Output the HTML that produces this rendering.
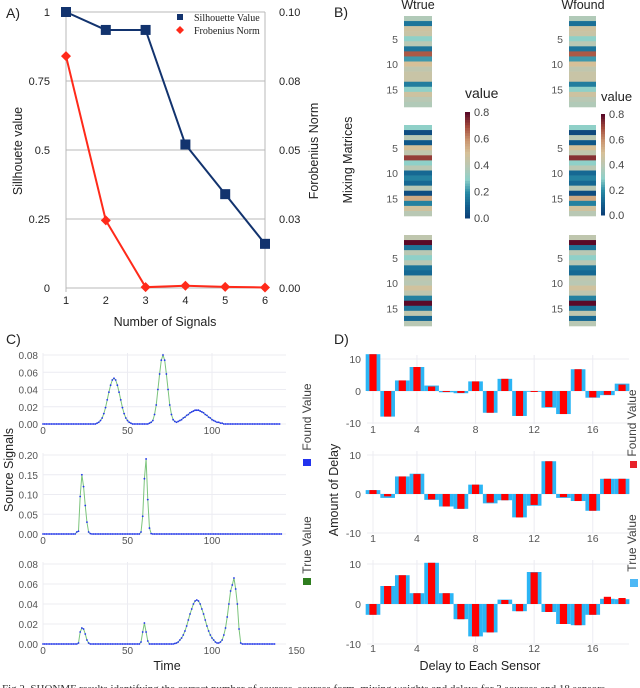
<!DOCTYPE html>
<html><head><meta charset="utf-8"><style>
html,body{margin:0;padding:0;background:#fff;}
svg{display:block;font-family:"Liberation Sans",sans-serif;}
</style></head><body>
<svg id="fig" width="640" height="688" viewBox="0 0 640 688" xmlns="http://www.w3.org/2000/svg">
</svg>
<script>
// ---------- DATA ----------
// Panel A
const aCats = [1,2,3,4,5,6];
const aSil = [1.0,0.935,0.935,0.52,0.34,0.16];
const aFrob = [0.084,0.0245,0.0003,0.0008,0.0004,0.0002];
const aLeftTicks = [0,0.25,0.5,0.75,1];
const aLeftLabels = ["0","0.25","0.5","0.75","1"];
const aRightLabels = ["0.00","0.03","0.05","0.08","0.10"];
// Panel B (18 sensors x 3 blocks)
const wTrue1 = [0.38,0.15,0.47,0.45,0.3,0.4,0.15,0.68,0.22,0.5,0.42,0.45,0.45,0.17,0.3,0.47,0.4,0.38];
const wTrue2 = [0.3,0.05,0.4,0.08,0.5,0.42,0.72,0.3,0.4,0.12,0.18,0.12,0.4,0.05,0.55,0.18,0.48,0.4];
const wTrue3 = [0.42,0.8,0.15,0.4,0.3,0.4,0.15,0.12,0.42,0.4,0.48,0.42,0.18,0.8,0.15,0.42,0.12,0.4];
const wFound1 = [0.38,0.14,0.47,0.45,0.3,0.4,0.15,0.68,0.22,0.5,0.42,0.45,0.45,0.17,0.3,0.47,0.4,0.38];
const wFound2 = [0.3,0.04,0.4,0.08,0.5,0.42,0.74,0.3,0.4,0.12,0.18,0.12,0.4,0.05,0.55,0.18,0.48,0.4];
const wFound3 = [0.42,0.82,0.15,0.4,0.3,0.4,0.15,0.12,0.42,0.4,0.48,0.42,0.18,0.8,0.15,0.42,0.12,0.4];
const cbarLabels = ["0.0","0.2","0.4","0.6","0.8"];
// Panel C (t = 0..140)
const sig1 = [0,0,0,0,0,0,0,0,0,0,0,0,0,0,0,0,0,0,0,0,0,0,0,0,0,0,0,0,0,0,0,0,
0.001,0.002,0.004,0.007,0.012,0.019,0.028,0.037,0.045,0.051,0.053,0.051,0.045,0.037,0.028,0.019,0.012,0.007,0.004,0.002,0.001,
0,0,0,0,0,0,0,0,0,0,
0.001,0.002,0.004,0.011,0.022,0.040,0.058,0.074,0.080,0.074,0.058,0.040,0.022,0.011,0.005,0.003,0.002,0.003,0.004,0.005,0.007,0.008,0.010,0.011,0.013,0.014,0.015,0.016,0.016,0.016,0.015,0.014,0.013,0.011,0.010,0.008,0.007,0.005,0.004,0.003,0.002,0.002,0.001,0.001,
0,0,0,0,0,0,0,0,0,0,0,0,0,0,0,0,0,0,0,0,0,0,0,0,0,0,0,0,0,0,0,0,0,0];
const sig2 = [0,0,0,0,0,0,0,0,0,0,0,0,0,0,0,0,0,0,0,0,
0.005,0.007,0.095,0.15,0.12,0.072,0.03,0.005,0.001,
0,0,0,0,0,0,0,0,0,0,0,0,0,0,0,0,0,0,0,0,0,0,0,0,0,0,0,0,0,
0.005,0.045,0.14,0.19,0.087,0.015,0.001,
0,0,0,0,0,0,0,0,0,0,0,0,0,0,0,0,0,0,0,0,0,0,0,0,0,0,0,0,0,0,0,0,0,0,0,0,0,0,0,0,0,0,0,0,0,0,0,0,0,0,0,0,0,0,0,0,0,0,0,0,0,0,0,0,0,0,0,0,0,0,0,0,0,0,0,0,0];
const sig3 = [0,0,0,0,0,0,0,0,0,0,0,0,0,0,0,0,0,0,0,0,0,
0.001,0.012,0.016,0.015,0.010,0.004,0.001,
0,0,0,0,0,0,0,0,0,0,0,0,0,0,0,0,0,0,0,0,0,0,0,0,0,0,0,0,0,0,
0.002,0.012,0.021,0.012,0.003,
0,0,0,0,0,0,0,0,0,0,0,0,0,0,0,
0.0005,0.001,0.002,0.004,0.006,0.009,0.013,0.018,0.024,0.030,0.035,0.040,0.043,0.044,0.043,0.040,0.035,0.030,0.024,0.018,0.013,0.009,0.006,0.004,0.002,0.001,0.001,0.002,0.004,0.009,0.016,0.027,0.040,0.053,0.059,0.066,0.055,0.040,0.015,0.001,
0,0,0,0,0,0,0,0,0,0,0,0,0,0,0,0,0,0,0,0];
const cXTicks = [0,50,100];
const cTicks1 = [0,0.02,0.04,0.06,0.08];
const cTicks2 = [0,0.05,0.10,0.15,0.20];
// Panel D (18 sensors)
const dTrue1 = [11.5,-8,3.3,7.5,1.7,-0.4,-0.7,3,-6.8,3.8,-7.8,-0.2,-5.2,-7.2,6.8,-2.1,-1.3,2.3];
const dFound1 = [11.5,-8,3.3,7.5,1.4,-0.3,-0.6,3,-6.8,3.8,-7.8,-0.3,-5,-7.2,6.8,-2,-1.2,2];
const dTrue2 = [1,-1,4.5,5.2,-1.5,-3.2,-3.8,2.4,-2.4,-1.6,-6,-3,8.4,-1,-1.8,-4.3,3.9,3.9];
const dFound2 = [1,-0.6,4.5,5.1,-1.4,-3.2,-3.8,2.4,-2.2,-1.6,-6,-2.8,8.4,-0.8,-1.8,-4.3,3.9,3.9];
const dTrue3 = [-2.7,4.5,7.2,2.7,10.3,2.7,-3.8,-8.1,-7.1,1.1,-1.8,8,-2,-5,-5.3,-2.7,1.3,1.2];
const dFound3 = [-2.7,4.5,7.2,2.7,10.3,2.7,-3.8,-8.1,-7.1,1,-1.8,7.9,-2,-5,-5.3,-2.7,1.8,1.5];
const dXTicks = [1,4,8,12,16];
const dYTicks = [-10,0,10];

// ---------- HELPERS ----------
const NS = "http://www.w3.org/2000/svg";
const svg = document.getElementById('fig');
function mk(tag, attrs, parent, text){
  const e = document.createElementNS(NS, tag);
  for (const k in attrs) e.setAttribute(k, attrs[k]);
  if (text !== undefined) e.textContent = text;
  (parent || svg).appendChild(e);
  return e;
}
function grp(parent){ return mk('g', {}, parent); }

// ---------- PANEL A ----------
const gA = grp(svg);


const axL = 66, axR = 265, ay0 = 288, ay1 = 12;
const ax = v => axL + (v - 1) * (axR - axL) / 5;
const ay = v => ay0 - v * (ay0 - ay1);
let t = mk('text', {x:6, y:18, 'font-size':14, fill:'#222'}, gA, 'A)');


aLeftTicks.forEach((v, i) => {
  const gl = mk('line', {x1:axL, x2:axR, y1:ay(v), y2:ay(v), stroke:'#b8b8b8', 'stroke-width':1}, gA);
  
  
  const lt = mk('text', {x:50, y:ay(v) + 4, 'font-size':11, 'text-anchor':'end', fill:'#222'}, gA, aLeftLabels[i]);
  
  
  const rt = mk('text', {x:279, y:ay(v) + 4, 'font-size':11, fill:'#222'}, gA, aRightLabels[i]);
  
  
});
mk('line', {x1:axL, x2:axL, y1:ay1, y2:ay0 + 4, stroke:'#b8b8b8'}, gA);
mk('line', {x1:axR, x2:axR, y1:ay1, y2:ay0 + 4, stroke:'#b8b8b8'}, gA);
aCats.forEach(c => {
  const xl = mk('text', {x:ax(c), y:304, 'font-size':11, 'text-anchor':'middle', fill:'#222'}, gA, String(c));
  
  
});
t = mk('text', {x:165, y:326, 'font-size':12.5, 'text-anchor':'middle', fill:'#222'}, gA, 'Number of Signals');


t = mk('text', {x:0, y:0, 'font-size':12.5, 'text-anchor':'middle', fill:'#222', transform:'translate(22,151) rotate(-90)'}, gA, 'Sillhouete value');


t = mk('text', {x:0, y:0, 'font-size':12.5, 'text-anchor':'middle', fill:'#222', transform:'translate(318,151) rotate(-90)'}, gA, 'Forobenius Norm');


// series
const silPts = aCats.map((c, i) => ax(c) + ',' + ay(aSil[i])).join(' ');
const silLine = mk('polyline', {points:silPts, fill:'none', stroke:'#12336e', 'stroke-width':2}, gA);


const frobPts = aCats.map((c, i) => ax(c) + ',' + ay(aFrob[i] * 10)).join(' ');
const frobLine = mk('polyline', {points:frobPts, fill:'none', stroke:'#ff2a1a', 'stroke-width':2}, gA);


aCats.forEach((c, i) => {
  const m = mk('rect', {x:ax(c) - 5, y:ay(aSil[i]) - 5, width:10, height:10, fill:'#12336e'}, gA);
  
  
  const x = ax(c), y = ay(aFrob[i] * 10);
  const d = mk('polygon', {points:`${x},${y-5} ${x+5},${y} ${x},${y+5} ${x-5},${y}`, fill:'#ff2a1a'}, gA);
  
  
});
// legend
const legA = grp(gA);


mk('rect', {x:177, y:14, width:6, height:6, fill:'#12336e'}, legA);
mk('polygon', {points:'180,26 184,30 180,34 176,30', fill:'#ff2a1a'}, legA);
mk('text', {x:194, y:21, 'font-size':10, 'font-family':'"Liberation Serif",serif', fill:'#222'}, legA, 'Silhouette Value');
mk('text', {x:194, y:34, 'font-size':10, 'font-family':'"Liberation Serif",serif', fill:'#222'}, legA, 'Frobenius Norm');

// ---------- PANEL B ----------
const gB = grp(svg);


const stops = [[0,[11,58,115]],[0.1,[18,95,142]],[0.2,[40,138,165]],[0.3,[143,208,200]],[0.4,[185,200,180]],[0.5,[214,192,152]],[0.6,[201,147,110]],[0.7,[163,74,60]],[0.8,[90,10,40]]];
function cmap(v){
  v = Math.max(0, Math.min(0.8, v));
  for (let i = 0; i < stops.length - 1; i++){
    const [a, ca] = stops[i], [b, cb] = stops[i+1];
    if (v <= b){
      const f = (v - a) / (b - a);
      return 'rgb(' + ca.map((c, j) => Math.round(c + f * (cb[j] - c))).join(',') + ')';
    }
  }
  return 'rgb(90,10,40)';
}
t = mk('text', {x:334, y:17, 'font-size':14, fill:'#222'}, gB, 'B)');


t = mk('text', {x:0, y:0, 'font-size':12.5, 'text-anchor':'middle', fill:'#222', transform:'translate(352,160) rotate(-90)'}, gB, 'Mixing Matrices');


t = mk('text', {x:418, y:9, 'font-size':12.5, 'text-anchor':'middle', fill:'#222'}, gB, 'Wtrue');


t = mk('text', {x:583, y:9, 'font-size':12.5, 'text-anchor':'middle', fill:'#222'}, gB, 'Wfound');


const blockTops = [16, 125, 235];
const rowH = 91 / 18;
const cols = [{x:404, w:28, data:[wTrue1,wTrue2,wTrue3], name:'wtrue'}, {x:569, w:27, data:[wFound1,wFound2,wFound3], name:'wfound'}];
cols.forEach(col => {
  col.data.forEach((arr, bi) => {
    const top = blockTops[bi];
    arr.forEach((v, r) => {
      const cell = mk('rect', {x:col.x, y:top + r * rowH, width:col.w, height:rowH + 0.3, fill:cmap(v)}, gB);
      
      
    });
    [5,10,15].forEach(k => {
      const lab = mk('text', {x:col.x - 6, y:top + (k - 0.5) * rowH + 4, 'font-size':10.5, 'text-anchor':'end', fill:'#555'}, gB, String(k));
      
      
    });
  });
});
// colorbars
const cbars = [{x:465, w:5, top:112, bot:218, lx:474, vx:465, vy:98, fs:14}, {x:601, w:4, top:114, bot:215, lx:609, vx:601, vy:101, fs:13}];
cbars.forEach((cb, ci) => {
  const g = grp(gB);
  
  
  const n = 40;
  for (let i = 0; i < n; i++){
    const v = 0.8 * (1 - i / n);
    mk('rect', {x:cb.x, y:cb.top + i * (cb.bot - cb.top) / n, width:cb.w, height:(cb.bot - cb.top) / n + 0.5, fill:cmap(v)}, g);
  }
  mk('text', {x:cb.vx, y:cb.vy, 'font-size':cb.fs, fill:'#222'}, g, 'value');
  cbarLabels.forEach((l, i) => {
    const y = cb.bot - i * (cb.bot - cb.top) / 4;
    mk('text', {x:cb.lx, y:y + 4, 'font-size':11, fill:'#444'}, g, l);
  });
});

// ---------- PANEL C ----------
const gC = grp(svg);


t = mk('text', {x:6, y:344, 'font-size':14, fill:'#222'}, gC, 'C)');


const cx = v => 43 + v * 1.69;
const cPlots = [{data:sig1, ticks:cTicks1, max:0.08, top:355, bot:424, fmt:2, lbl:431},
                {data:sig2, ticks:cTicks2, max:0.20, top:455, bot:534, fmt:2, lbl:541},
                {data:sig3, ticks:cTicks1, max:0.08, top:564, bot:644, fmt:2, lbl:651}];
cPlots.forEach((p, pi) => {
  const g = grp(gC);
  
  
  const yy = v => p.bot - v / p.max * (p.bot - p.top);
  p.ticks.forEach(v => {
    mk('line', {x1:43, x2:286, y1:yy(v), y2:yy(v), stroke:'#ececf2', 'stroke-width':1}, g);
    mk('text', {x:38, y:yy(v) + 4, 'font-size':10, 'text-anchor':'end', fill:'#555'}, g, v.toFixed(2));
  });
  cXTicks.forEach(v => {
    mk('line', {x1:cx(v), x2:cx(v), y1:p.top - 2, y2:p.bot, stroke:'#ececf2'}, g);
    mk('text', {x:cx(v), y:p.lbl + 3, 'font-size':10, 'text-anchor':'middle', fill:'#555'}, g, String(v));
  });
  if (pi === 2){
    mk('text', {x:cx(150), y:p.lbl + 3, 'font-size':10, 'text-anchor':'middle', fill:'#555'}, g, '150');
  }
  const pts = p.data.map((v, i) => cx(i) + ',' + yy(v)).join(' ');
  const tl = mk('polyline', {points:pts, fill:'none', stroke:'#7cc47c', 'stroke-width':1}, g);
  
  
  p.data.forEach((v, i) => {
    const d = mk('circle', {cx:cx(i), cy:yy(v), r:0.9, fill:'#2233ee'}, g);
    
    
  });
});
t = mk('text', {x:167, y:670, 'font-size':12.5, 'text-anchor':'middle', fill:'#222'}, gC, 'Time');


t = mk('text', {x:0, y:0, 'font-size':12.5, 'text-anchor':'middle', fill:'#222', transform:'translate(13,470) rotate(-90)'}, gC, 'Source Signals');


const legC = grp(gC);


mk('text', {x:0, y:0, 'font-size':12, 'text-anchor':'middle', fill:'#444', transform:'translate(311,417) rotate(-90)'}, legC, 'Found Value');
mk('rect', {x:303, y:459, width:8, height:7, fill:'#2233ee'}, legC);
mk('text', {x:0, y:0, 'font-size':12, 'text-anchor':'middle', fill:'#444', transform:'translate(311,545) rotate(-90)'}, legC, 'True Value');
mk('rect', {x:303, y:578, width:8, height:7, fill:'#2e7d1e'}, legC);

// ---------- PANEL D ----------
const gD = grp(svg);


t = mk('text', {x:334, y:344, 'font-size':14, fill:'#222'}, gD, 'D)');


const step = 14.65;
const dx = s => 373 + (s - 1) * step;
const dPlots = [{t:dTrue1, f:dFound1, top:359, zero:391, bot:424},
                {t:dTrue2, f:dFound2, top:455, zero:494, bot:533},
                {t:dTrue3, f:dFound3, top:564, zero:604, bot:643}];
dPlots.forEach((p, pi) => {
  const g = grp(gD);
  
  
  const yy = v => p.zero - v * (p.zero - p.top) / 10;
  dYTicks.forEach(v => {
    mk('line', {x1:367, x2:629, y1:yy(v), y2:yy(v), stroke:'#ececf2'}, g);
    mk('text', {x:361, y:yy(v) + 4, 'font-size':10.5, 'text-anchor':'end', fill:'#555'}, g, String(v));
  });
  dXTicks.forEach(s => {
    mk('line', {x1:dx(s), x2:dx(s), y1:p.top - 4, y2:p.bot, stroke:'#ececf2'}, g);
    mk('text', {x:dx(s), y:p.bot + 9, 'font-size':10.5, 'text-anchor':'middle', fill:'#555'}, g, String(s));
  });
  p.t.forEach((v, i) => {
    const y0 = yy(Math.max(v, 0)), h = Math.abs(yy(v) - yy(0));
    const b = mk('rect', {x:dx(i + 1) - step / 2, y:y0, width:step, height:Math.max(h, 0.8), fill:'#2bb5f5'}, g);
    
    
  });
  p.f.forEach((v, i) => {
    const y0 = yy(Math.max(v, 0)), h = Math.abs(yy(v) - yy(0));
    const b = mk('rect', {x:dx(i + 1) - 3.6, y:y0, width:7.2, height:Math.max(h, 0.8), fill:'#ff0000'}, g);
    
    
  });
});
t = mk('text', {x:480, y:670, 'font-size':12.5, 'text-anchor':'middle', fill:'#222'}, gD, 'Delay to Each Sensor');


t = mk('text', {x:0, y:0, 'font-size':12.5, 'text-anchor':'middle', fill:'#222', transform:'translate(338,490) rotate(-90)'}, gD, 'Amount of Delay');


const legD = grp(gD);


mk('text', {x:0, y:0, 'font-size':12, 'text-anchor':'middle', fill:'#444', transform:'translate(636,423) rotate(-90)'}, legD, 'Found Value');
mk('rect', {x:630, y:461, width:7, height:7, fill:'#e8222a'}, legD);
mk('text', {x:0, y:0, 'font-size':12, 'text-anchor':'middle', fill:'#444', transform:'translate(636,543) rotate(-90)'}, legD, 'True Value');
mk('rect', {x:630, y:579, width:8, height:8, fill:'#4db8f5'}, legD);

// caption
t = mk('text', {x:2, y:692, 'font-size':11, 'font-family':'"Liberation Serif",serif', fill:'#333'}, svg, 'Fig 2. SHONMF results identifying the correct number of sources, sources form, mixing weights and delays for 3 sources and 18 sensors.');


</script>
</body></html>
